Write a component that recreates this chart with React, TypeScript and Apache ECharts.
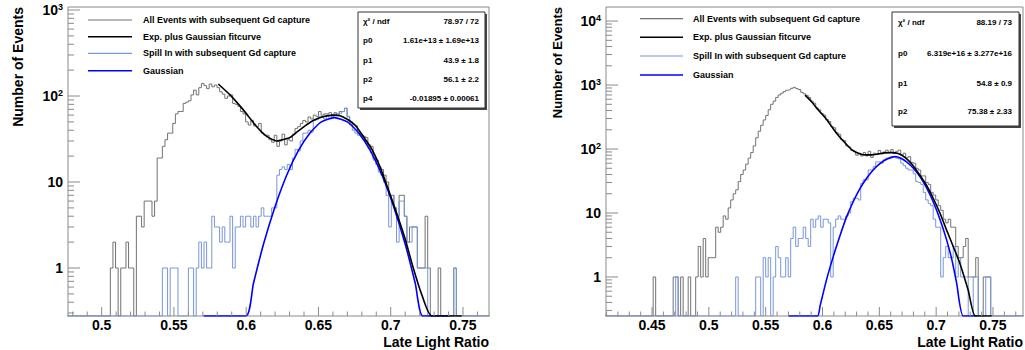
import React, { useEffect, useRef } from 'react';
import * as echarts from 'echarts';

// ---------------- DATA ----------------
// Left panel histograms (bins of fixed width starting at leftBinStart)
const leftBinStart = 0.506;
const leftBinWidth = 0.0018;
const leftAllEvents = [
  1, 2, 1, 0, 1, 1, 2, 1, 1, 0,
  4, 4, 3, 6, 6, 6, 4, 6, 19, 19,
  26, 31, 37, 37, 48, 62, 66, 66, 82, 85,
  88, 103, 117, 103, 125, 140, 132, 122, 138, 128,
  134, 125, 112, 105, 94, 100, 103, 82, 80, 76,
  66, 62, 50, 46, 52, 45, 44, 48, 37, 35,
  35, 31, 29, 35, 26, 30, 36, 27, 31, 30,
  36, 42, 44, 48, 52, 50, 57, 54, 60, 58,
  66, 60, 62, 62, 64, 60, 64, 62, 66, 66,
  72, 58, 50, 46, 45, 38, 35, 34, 33, 27,
  26, 19, 18, 15, 14, 12, 10, 7, 7, 5,
  4, 7, 7, 4, 2, 3, 3, 3, 1, 1,
  1, 4, 1, 0, 0, 0, 1, 0, 0, 0,
  0, 0, 1, 0, 0,
];
const leftSpillIn = [
  0, 0, 0, 0, 0, 0, 0, 0, 0, 0,
  0, 0, 0, 0, 0, 0, 0, 0, 0, 0,
  1, 1, 0, 1, 1, 1, 0, 0, 0, 0,
  1, 1, 0, 1, 2, 1, 2, 1, 1, 4,
  3, 3, 2, 3, 2, 2, 4, 1, 3, 3,
  4, 3, 4, 4, 3, 4, 3, 4, 5, 4,
  4, 4, 5, 5, 12, 14, 15, 14, 16, 14,
  19, 24, 23, 30, 37, 37, 40, 38, 52, 53,
  58, 57, 54, 60, 55, 58, 62, 60, 63, 66,
  72, 57, 46, 40, 37, 35, 34, 31, 28, 25,
  22, 18, 16, 13, 12, 10, 7, 3, 7, 5,
  2, 6, 6, 4, 2, 2, 3, 3, 1, 1,
  1, 1, 0, 0, 0, 0, 0, 0, 0, 0,
  0, 0, 1, 0, 0,
];
// Left fit curves (0 = below the axis minimum)
const leftFitX = [0.5807, 0.5888, 0.598, 0.6073, 0.6142, 0.6211, 0.6234, 0.6303, 0.635, 0.6407, 0.6464, 0.6525, 0.6603, 0.665, 0.6696, 0.6753, 0.681, 0.687, 0.6926, 0.698, 0.7042, 0.7099, 0.7156, 0.7213, 0.7284, 0.7491];
const leftFitY = [138, 103, 69, 44, 34, 30, 30.5, 33, 38, 45, 52, 57, 60, 59, 54, 46, 34, 24, 15, 8.5, 4.3, 2.2, 1, 0.5, 0, 0];
const leftGausX = [0.5705, 0.5998, 0.605, 0.612, 0.62, 0.628, 0.636, 0.644, 0.652, 0.661, 0.67, 0.678, 0.686, 0.694, 0.702, 0.71, 0.717, 0.7222, 0.7405];
const leftGausY = [0, 0, 0.66, 1.9, 5.2, 12, 23, 37, 50, 56, 50, 37, 23, 12, 5.2, 1.9, 0.66, 0, 0];

// Right panel histograms
const rightBinStart = 0.451;
const rightBinWidth = 0.0022;
const rightAllEvents = [
  1, 0, 0, 0, 0, 0, 0, 0, 1, 1,
  0, 1, 0, 0, 1, 0, 0, 1, 3, 1,
  4, 1, 2, 2, 2, 6, 5, 6, 9, 8,
  12, 16, 20, 23, 31, 40, 47, 58, 72, 88,
  112, 150, 190, 235, 285, 335, 410, 500, 560, 640,
  700, 745, 790, 830, 850, 890, 920, 880, 850, 770,
  730, 690, 640, 560, 520, 440, 410, 360, 340, 290,
  270, 225, 215, 180, 170, 140, 135, 112, 108, 95,
  92, 80, 86, 78, 88, 78, 92, 74, 86, 82,
  95, 84, 90, 96, 88, 98, 85, 92, 96, 80,
  86, 73, 76, 62, 60, 50, 47, 38, 38, 30,
  28, 21, 19, 16, 13, 11, 8, 7, 8, 6,
  6, 3, 2, 2, 3, 4, 1, 1, 1, 2,
  0, 0, 1, 1, 1, 0,
];
const rightSpillIn = [
  0, 0, 0, 0, 0, 0, 0, 0, 0, 1,
  0, 0, 0, 0, 0, 0, 0, 0, 0, 0,
  0, 0, 0, 0, 0, 0, 0, 0, 0, 0,
  0, 0, 0, 1, 0, 0, 0, 0, 0, 0,
  0, 1, 1, 0, 2, 1, 2, 0, 1, 3,
  2, 1, 1, 2, 1, 4, 6, 3, 4, 4,
  6, 4, 3, 8, 6, 8, 9, 6, 8, 8,
  7, 1, 6, 8, 9, 8, 8, 9, 10, 15,
  17, 17, 16, 29, 33, 33, 47, 47, 53, 63,
  63, 60, 68, 72, 72, 76, 76, 72, 70, 60,
  55, 50, 47, 47, 41, 31, 30, 28, 21, 16,
  14, 13, 8, 6, 6, 1, 2, 3, 2, 2,
  3, 1, 2, 1, 1, 1, 0, 0, 1, 1,
  0, 0, 0, 1, 1, 0,
];
const rightFitX = [0.5846, 0.5907, 0.5963, 0.6022, 0.608, 0.6136, 0.6197, 0.6256, 0.6314, 0.6373, 0.6432, 0.649, 0.6549, 0.6608, 0.6666, 0.6725, 0.6787, 0.6857, 0.6916, 0.6974, 0.7033, 0.7092, 0.715, 0.7209, 0.7282, 0.7345, 0.7488];
const rightFitY = [695, 540, 406, 310, 225, 165, 125, 98, 86, 81, 81, 84, 87, 88, 85, 74, 58, 39, 27, 17, 10, 5.4, 3, 1.63, 0.62, 0, 0];
const rightGausX = [0.57, 0.5955, 0.5978, 0.6035, 0.6095, 0.6155, 0.6212, 0.627, 0.6329, 0.6388, 0.6446, 0.6505, 0.6564, 0.6637, 0.669, 0.674, 0.68, 0.6857, 0.6915, 0.6974, 0.7033, 0.7092, 0.714, 0.718, 0.7238, 0.7358];
const rightGausY = [0, 0, 0.35, 0.9, 2.1, 4.5, 8.7, 15, 24, 35, 47, 59, 69, 76, 72, 63, 50, 37, 25, 15, 8, 3.8, 1.8, 0.8, 0, 0];

// Axis ranges (x in ratio units, y in log10 of counts)
const leftXRange = [0.4767, 0.768];
const leftYLogRange = [-0.558, 3.035];
const rightXRange = [0.4095, 0.7764];
const rightYLogRange = [-0.61, 4.22];

// Tick labels
const leftXTicks = [0.5, 0.55, 0.6, 0.65, 0.7, 0.75];
const leftXTickLabels = ['0.5', '0.55', '0.6', '0.65', '0.7', '0.75'];
const leftYTicks = [1, 10, 100, 1000];
const leftYTickLabels = ['1', '10', '10^2', '10^3'];
const rightXTicks = [0.45, 0.5, 0.55, 0.6, 0.65, 0.7, 0.75];
const rightXTickLabels = ['0.45', '0.5', '0.55', '0.6', '0.65', '0.7', '0.75'];
const rightYTicks = [1, 10, 100, 1000, 10000];
const rightYTickLabels = ['1', '10', '10^2', '10^3', '10^4'];

const legendLabels = [
  'All Events with subsequent Gd capture',
  'Exp. plus Gaussian fitcurve',
  'Spill In with subsequent Gd capture',
  'Gaussian',
];
const leftStatNames = ['χ² / ndf', 'p0', 'p1', 'p2', 'p4'];
const leftStatValues = ['78.97 / 72', '1.61e+13 ± 1.69e+13', '43.9 ± 1.8', '56.1 ± 2.2', '-0.01895 ± 0.00061'];
const rightStatNames = ['χ² / ndf', 'p0', 'p1', 'p2'];
const rightStatValues = ['88.19 / 73', '6.319e+16 ± 3.277e+16', '54.8 ± 0.9', '75.38 ± 2.33'];
const xTitle = 'Late Light Ratio';
const yTitle = 'Number of Events';

// ---------------- STYLE ----------------
const FONT = '"Liberation Sans", Arial, Helvetica, sans-serif';
const GRAY = '#727272';
const LIGHTBLUE = '#7896da';
const BLUE = '#0000ff';
const FRAME = '#8a8a8a';

function toLog(c: number, yMin: number) {
  return c > 0 ? Math.log10(c) : yMin;
}

function histPoints(start: number, width: number, counts: number[], xr: number[], yMin: number) {
  const iFrom = Math.floor((xr[0] - start) / width) - 1;
  const iTo = Math.ceil((xr[1] - start) / width) + 1;
  const pts: number[][] = [];
  for (let i = iFrom; i <= iTo; i++) {
    const c = i >= 0 && i < counts.length ? counts[i] : 0;
    const y = toLog(c, yMin);
    const x0 = start + i * width;
    pts.push([x0, y], [x0 + width, y]);
  }
  return pts;
}

function curvePoints(xs: number[], ys: number[], yMin: number) {
  return xs.map((x, i) => [x, toLog(ys[i], yMin)]);
}

function labelText(l: string) {
  if (l.indexOf('^') >= 0) {
    const [b, s] = l.split('^');
    return `{b|${b}}{s|${s}}`;
  }
  return `{b|${l}}`;
}

interface PanelCfg {
  xr: number[];
  yr: number[];
  xTicks: number[];
  xLabels: string[];
  yTicks: number[];
  yLabels: string[];
}

function makeAxisRenderer(p: PanelCfg) {
  return function (_params: any, api: any) {
    const children: any[] = [];
    const bl = api.coord([p.xr[0], p.yr[0]]);
    const x0 = bl[0];
    const y0 = bl[1];
    for (let k = Math.ceil(p.xr[0] * 100 - 1e-6); k <= Math.floor(p.xr[1] * 100 + 1e-6); k++) {
      const px = api.coord([k / 100, p.yr[0]])[0];
      const len = k % 5 === 0 ? 9 : 4.5;
      children.push({
        type: 'line',
        shape: { x1: px, y1: y0, x2: px, y2: y0 - len },
        style: { stroke: FRAME, lineWidth: 1 },
      });
    }
    p.xTicks.forEach((v, j) => {
      const px = api.coord([v, p.yr[0]])[0];
      children.push({
        type: 'text',
        x: px,
        y: y0 + 9,
        style: {
          text: p.xLabels[j],
          fill: '#000',
          fontSize: 14,
          fontWeight: 'bold',
          fontFamily: FONT,
          align: 'center',
          verticalAlign: 'middle',
        },
      });
    });
    for (let n = Math.floor(p.yr[0]); n <= Math.ceil(p.yr[1]); n++) {
      for (let k = 1; k <= 9; k++) {
        const lv = n + Math.log10(k);
        if (lv < p.yr[0] || lv > p.yr[1]) continue;
        const py = api.coord([p.xr[0], lv])[1];
        children.push({
          type: 'line',
          shape: { x1: x0, y1: py, x2: x0 + (k === 1 ? 12 : 6), y2: py },
          style: { stroke: FRAME, lineWidth: 1 },
        });
      }
    }
    p.yTicks.forEach((v, j) => {
      const py = api.coord([p.xr[0], Math.log10(v)])[1];
      children.push({
        type: 'text',
        x: x0 - 5,
        y: py,
        style: {
          text: labelText(p.yLabels[j]),
          align: 'right',
          verticalAlign: 'middle',
          rich: {
            b: { fontSize: 14, fontWeight: 'bold', fontFamily: FONT, fill: '#000', lineHeight: 14, verticalAlign: 'bottom' },
            s: { fontSize: 9, fontWeight: 'bold', fontFamily: FONT, fill: '#000', lineHeight: 10, padding: [0, 0, 6, 0], verticalAlign: 'bottom' },
          },
        },
      });
    });
    return { type: 'group', children };
  };
}

function legendGraphics(x1: number, x2: number, tx: number, ys: number[]) {
  const colors = [GRAY, '#000', LIGHTBLUE, BLUE];
  const widths = [1.2, 1.6, 1.2, 1.6];
  const els: any[] = [];
  legendLabels.forEach((l, i) => {
    els.push({
      type: 'line',
      shape: { x1, y1: ys[i], x2, y2: ys[i] },
      style: { stroke: colors[i], lineWidth: widths[i] },
    });
    els.push({
      type: 'text',
      x: tx,
      y: ys[i],
      style: { text: l, fontSize: 9, fontWeight: 'bold', fontFamily: FONT, fill: '#000', align: 'left', verticalAlign: 'middle' },
    });
  });
  return els;
}

function statsGraphics(x: number, y: number, w: number, h: number, names: string[], values: string[], rows: number[], lx: number, vx: number) {
  const els: any[] = [
    { type: 'rect', shape: { x: x + 2, y: y + 2, width: w, height: h }, style: { fill: '#444' } },
    { type: 'rect', shape: { x, y, width: w, height: h }, style: { fill: '#fff', stroke: '#333', lineWidth: 1 } },
  ];
  names.forEach((n, i) => {
    els.push({
      type: 'text', x: lx, y: rows[i],
      style: { text: n, fontSize: 8, fontWeight: 'bold', fontFamily: FONT, fill: '#000', align: 'left', verticalAlign: 'middle' },
    });
    els.push({
      type: 'text', x: vx, y: rows[i],
      style: { text: values[i], fontSize: 8, fontWeight: 'bold', fontFamily: FONT, fill: '#000', align: 'right', verticalAlign: 'middle' },
    });
  });
  return els;
}

function lineSeries(idx: number, data: number[][], color: string, width: number, z: number, smooth: number | boolean) {
  return {
    type: 'line',
    xAxisIndex: idx,
    yAxisIndex: idx,
    data,
    symbol: 'none',
    showSymbol: false,
    smooth,
    lineStyle: { color, width },
    z,
    silent: true,
    animation: false,
    emphasis: { disabled: true },
  };
}

export default function App() {
  const ref = useRef<HTMLDivElement>(null);
  useEffect(() => {
    if (!ref.current) return;
    const chart = echarts.init(ref.current, undefined, { renderer: 'svg' });
    const leftCfg: PanelCfg = { xr: leftXRange, yr: leftYLogRange, xTicks: leftXTicks, xLabels: leftXTickLabels, yTicks: leftYTicks, yLabels: leftYTickLabels };
    const rightCfg: PanelCfg = { xr: rightXRange, yr: rightYLogRange, xTicks: rightXTicks, xLabels: rightXTickLabels, yTicks: rightYTicks, yLabels: rightYTickLabels };

    const option: any = {
      animation: false,
      backgroundColor: '#fff',
      grid: [
        { left: 68, top: 7, width: 421, height: 309, show: true, borderColor: FRAME, borderWidth: 1, backgroundColor: 'transparent' },
        { left: 606, top: 7, width: 417, height: 309, show: true, borderColor: FRAME, borderWidth: 1, backgroundColor: 'transparent' },
      ],
      xAxis: [
        { type: 'value', gridIndex: 0, min: leftXRange[0], max: leftXRange[1], show: false },
        { type: 'value', gridIndex: 1, min: rightXRange[0], max: rightXRange[1], show: false },
      ],
      yAxis: [
        { type: 'value', gridIndex: 0, min: leftYLogRange[0], max: leftYLogRange[1], show: false },
        { type: 'value', gridIndex: 1, min: rightYLogRange[0], max: rightYLogRange[1], show: false },
      ],
      series: [
        lineSeries(0, histPoints(leftBinStart, leftBinWidth, leftAllEvents, leftXRange, leftYLogRange[0]), GRAY, 1, 2, false),
        lineSeries(0, histPoints(leftBinStart, leftBinWidth, leftSpillIn, leftXRange, leftYLogRange[0]), LIGHTBLUE, 1, 3, false),
        lineSeries(0, curvePoints(leftGausX, leftGausY, leftYLogRange[0]), BLUE, 1.6, 4, 0.2),
        lineSeries(0, curvePoints(leftFitX, leftFitY, leftYLogRange[0]), '#000', 1.6, 5, 0.2),
        lineSeries(1, histPoints(rightBinStart, rightBinWidth, rightAllEvents, rightXRange, rightYLogRange[0]), GRAY, 1, 2, false),
        lineSeries(1, histPoints(rightBinStart, rightBinWidth, rightSpillIn, rightXRange, rightYLogRange[0]), LIGHTBLUE, 1, 3, false),
        lineSeries(1, curvePoints(rightGausX, rightGausY, rightYLogRange[0]), BLUE, 1.6, 4, 0.2),
        lineSeries(1, curvePoints(rightFitX, rightFitY, rightYLogRange[0]), '#000', 1.6, 5, 0.2),
        {
          type: 'custom', xAxisIndex: 0, yAxisIndex: 0, coordinateSystem: 'cartesian2d',
          data: [[0.6, 1]], renderItem: makeAxisRenderer(leftCfg), z: 10, silent: true, clip: false,
        },
        {
          type: 'custom', xAxisIndex: 1, yAxisIndex: 1, coordinateSystem: 'cartesian2d',
          data: [[0.6, 1]], renderItem: makeAxisRenderer(rightCfg), z: 10, silent: true, clip: false,
        },
      ],
      graphic: [
        {
          type: 'text', x: 18, y: 7, rotation: Math.PI / 2,
          style: { text: yTitle, fontSize: 14, fontWeight: 'bold', fontFamily: FONT, fill: '#000', align: 'right', verticalAlign: 'middle' },
        },
        {
          type: 'text', x: 557, y: 7, rotation: Math.PI / 2,
          style: { text: yTitle, fontSize: 13, fontWeight: 'bold', fontFamily: FONT, fill: '#000', align: 'right', verticalAlign: 'middle' },
        },
        {
          type: 'text', x: 489, y: 342,
          style: { text: xTitle, fontSize: 14, fontWeight: 'bold', fontFamily: FONT, fill: '#000', align: 'right', verticalAlign: 'middle' },
        },
        {
          type: 'text', x: 1023, y: 342,
          style: { text: xTitle, fontSize: 14, fontWeight: 'bold', fontFamily: FONT, fill: '#000', align: 'right', verticalAlign: 'middle' },
        },
        ...legendGraphics(88, 132, 143, [20, 36.7, 53.3, 70.7]),
        ...legendGraphics(640, 683, 693, [18.7, 37.3, 56, 75]),
        ...statsGraphics(358, 12, 127, 96, leftStatNames, leftStatValues, [21.7, 40.7, 60, 79, 98.3], 363, 479),
        ...statsGraphics(892, 12, 127, 114, rightStatNames, rightStatValues, [22.7, 53.3, 83.3, 111], 898, 1012),
      ],
    };
    chart.setOption(option);
    return () => chart.dispose();
  }, []);
  return <div ref={ref} style={{ position: 'fixed', left: 0, top: 0, width: 1025, height: 350 }} />;
}
